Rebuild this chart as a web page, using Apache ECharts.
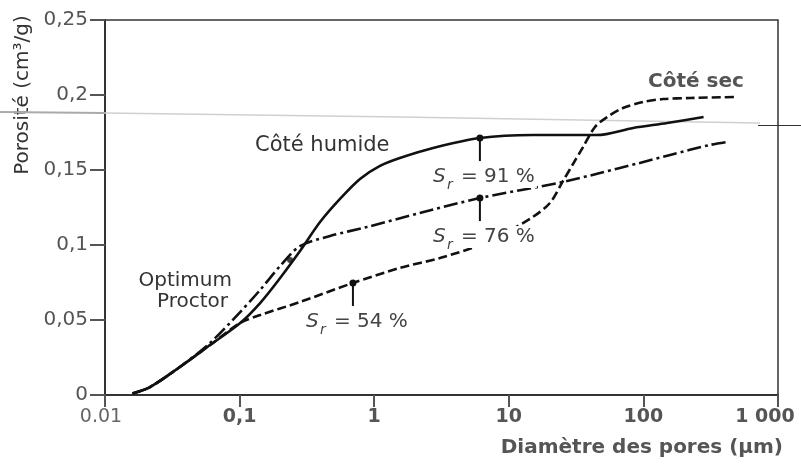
<!DOCTYPE html>
<html>
<head>
<meta charset="utf-8">
<title>Porosité en fonction du diamètre des pores</title>
<script src="https://cdn.jsdelivr.net/npm/echarts@6/dist/echarts.min.js"></script>
<style>
  html, body { margin: 0; padding: 0; background: #fff; }
  #chart { width: 801px; height: 468px; }
</style>
</head>
<body>
<div id="chart"></div>
<script>
// Axis ticks and their printed labels
const xTickValues = [0.01, 0.1, 1, 10, 100, 1000];
const xTickLabels = ['0.01', '0,1', '1', '10', '100', '1 000'];
const yTickValues = [0, 0.05, 0.1, 0.15, 0.2, 0.25];
const yTickLabels = ['0', '0,05', '0,1', '0,15', '0,2', '0,25'];

// Wet side of optimum (Sr = 91 %): pore diameter (µm) / porosity (cm3/g)
const wetDiam = [0.016, 0.0216, 0.036, 0.0603, 0.101, 0.142, 0.2, 0.281, 0.396, 0.557, 0.784, 1.104, 1.55, 2.74, 6.1, 15.1, 45.2, 84, 150, 280];
const wetPor  = [0.001, 0.0053, 0.0187, 0.0333, 0.048, 0.0613, 0.078, 0.096, 0.1153, 0.1307, 0.144, 0.1527, 0.158, 0.1647, 0.1713, 0.1733, 0.1733, 0.178, 0.1813, 0.1853];

// Optimum water content (Sr = 76 %)
const midDiam = [0.016, 0.0216, 0.036, 0.0603, 0.101, 0.142, 0.2, 0.281, 0.47, 0.883, 2.18, 6.1, 25.3, 47.6, 94, 158, 312, 418];
const midPor  = [0.001, 0.0053, 0.0187, 0.0347, 0.0553, 0.07, 0.086, 0.0993, 0.106, 0.112, 0.1213, 0.1313, 0.142, 0.148, 0.1547, 0.16, 0.1667, 0.1687];

// Dry side of optimum (Sr = 54 %)
const dryDiam = [0.016, 0.0216, 0.036, 0.0603, 0.101, 0.142, 0.281, 0.695, 1.55, 3.08, 5.8, 9.37, 15.1, 20.2, 25.3, 30, 35.6, 43.7, 53.7, 70.5, 99, 140, 222, 496];
const dryPor  = [0.001, 0.0053, 0.0187, 0.0333, 0.048, 0.0533, 0.062, 0.0747, 0.0847, 0.0913, 0.0993, 0.108, 0.1187, 0.128, 0.1427, 0.154, 0.1653, 0.1787, 0.1853, 0.1913, 0.1953, 0.1973, 0.198, 0.1987];

// Saturation markers on each curve
const srDiam = [6.1, 6.1, 0.695];
const srPor = [0.1713, 0.1313, 0.0747];
const srLabels = ['91 %', '76 %', '54 %'];

// Optimum Proctor point
const optDiam = [0.237];
const optPor = [0.09];

const FONT = 'DejaVu Sans';
const zip = (xs, ys) => xs.map((x, i) => [x, ys[i]]);

const chart = echarts.init(document.getElementById('chart'), null, { renderer: 'canvas' });

function xLabel(v) {
  const k = Math.round(Math.log10(v));
  const i = xTickValues.findIndex(t => Math.round(Math.log10(t)) === k);
  if (i < 0) return '';
  const style = i === 0 ? 'thin' : (i === xTickValues.length - 1 ? 'last' : 'bold');
  return '{' + style + '|' + xTickLabels[i] + '}';
}
function yLabel(v) {
  const i = yTickValues.findIndex(t => Math.abs(t - v) < 1e-9);
  return i < 0 ? '' : yTickLabels[i];
}

const option = {
  animation: false,
  textStyle: { fontFamily: FONT },
  grid: { left: 105, right: 23, top: 20, bottom: 73, show: true, borderColor: '#333', borderWidth: 1.5 },
  xAxis: {
    type: 'log', logBase: 10, min: 0.01, max: 1000,
    axisLine: { show: true, lineStyle: { color: '#333', width: 2 } },
    axisTick: { show: true, length: 12, lineStyle: { color: '#555', width: 2 } },
    minorTick: { show: false },
    splitLine: { show: false },
    axisLabel: {
      margin: 13, formatter: xLabel,
      rich: {
        thin: { fontFamily: FONT, fontSize: 19, color: '#666', padding: [0, 8, 0, 0] },
        bold: { fontFamily: FONT, fontSize: 19, fontWeight: 'bold', color: '#555' },
        last: { fontFamily: FONT, fontSize: 19, fontWeight: 'bold', color: '#555', padding: [0, 26, 0, 0] }
      }
    }
  },
  yAxis: {
    type: 'value', min: 0, max: 0.25, interval: 0.05,
    axisLine: { show: true, lineStyle: { color: '#333', width: 2 } },
    axisTick: { show: true, length: 15, lineStyle: { color: '#555', width: 2 } },
    splitLine: { show: false },
    axisLabel: { margin: 17, formatter: yLabel, fontFamily: FONT, fontSize: 20, color: '#555' }
  },
  graphic: [
    // thin rule across the figure
    { type: 'polyline', z: 1, silent: true, shape: { points: [[0, 112], [105, 113]] }, style: { stroke: '#aaa', lineWidth: 2, fill: null } },
    { type: 'polyline', z: 1, silent: true, shape: { points: [[105, 113], [400, 117], [760, 123]] }, style: { stroke: '#d0d0d0', lineWidth: 1.5, fill: null } },
    { type: 'line', z: 1, silent: true, shape: { x1: 758, y1: 125.5, x2: 801, y2: 125.5 }, style: { stroke: '#333', lineWidth: 1.2 } },
    // axis titles
    { type: 'text', x: 23, y: 95, rotation: Math.PI / 2, style: { text: 'Porosité (cm³/g)', font: '20px ' + FONT, fill: '#333', align: 'center', verticalAlign: 'middle' } },
    { type: 'text', x: 783, y: 448, style: { text: 'Diamètre des pores (µm)', font: 'bold 20px ' + FONT, fill: '#555', align: 'right', verticalAlign: 'middle' } },
    // curve annotations
    { type: 'text', x: 255, y: 146, style: { text: 'Côté humide', font: '21px ' + FONT, fill: '#333', align: 'left', verticalAlign: 'middle' } },
    { type: 'text', x: 648, y: 82, style: { text: 'Côté sec', font: 'bold 20px ' + FONT, fill: '#555', align: 'left', verticalAlign: 'middle' } },
    { type: 'text', x: 232, y: 281, style: { text: 'Optimum', font: '20px ' + FONT, fill: '#333', align: 'right', verticalAlign: 'middle' } },
    { type: 'text', x: 228, y: 302, style: { text: 'Proctor', font: '20px ' + FONT, fill: '#333', align: 'right', verticalAlign: 'middle' } }
  ],
  series: [
    {
      name: 'Sr 91 %', type: 'line', data: zip(wetDiam, wetPor), showSymbol: false, smooth: 0.3, silent: true, z: 3,
      lineStyle: { color: '#111', width: 2.6 }
    },
    {
      name: 'Sr 76 %', type: 'line', data: zip(midDiam, midPor), showSymbol: false, smooth: 0.3, silent: true, z: 3,
      lineStyle: { color: '#111', width: 2.6, type: [14, 4, 3, 4], cap: 'butt' }
    },
    {
      name: 'Sr 54 %', type: 'line', data: zip(dryDiam, dryPor), showSymbol: false, smooth: 0.3, silent: true, z: 3,
      lineStyle: { color: '#111', width: 2.6, type: [9, 4], cap: 'butt' }
    },
    {
      name: 'Optimum', type: 'scatter', data: zip(optDiam, optPor), symbol: 'circle', symbolSize: 6, silent: true, z: 4,
      itemStyle: { color: '#111' }
    },
    {
      name: 'Sr', type: 'custom', coordinateSystem: 'cartesian2d', silent: true, z: 6,
      data: srDiam.map((x, i) => [x, srPor[i], i]),
      renderItem: function (params, api) {
        const p = api.coord([api.value(0), api.value(1)]);
        const i = api.value(2);
        const ty = p[1] + 39;
        return {
          type: 'group',
          children: [
            { type: 'line', shape: { x1: p[0], y1: p[1], x2: p[0], y2: p[1] + 23 }, style: { stroke: '#111', lineWidth: 2 } },
            { type: 'circle', shape: { cx: p[0], cy: p[1], r: 3.5 }, style: { fill: '#111' } },
            { type: 'text', x: p[0] - 21, y: ty, style: { text: '= ' + srLabels[i], fontFamily: FONT, fontSize: 20, fill: '#444', align: 'left', verticalAlign: 'middle', backgroundColor: '#fff', padding: [1, 2] } },
            { type: 'text', x: p[0] - 47, y: ty, style: { text: 'S', fontFamily: FONT, fontSize: 20, fontStyle: 'italic', fill: '#444', align: 'left', verticalAlign: 'middle' } },
            { type: 'text', x: p[0] - 33, y: ty + 8, style: { text: 'r', fontFamily: FONT, fontSize: 14, fontStyle: 'italic', fill: '#444', align: 'left', verticalAlign: 'middle' } }
          ]
        };
      }
    }
  ]
};

chart.setOption(option);
</script>
</body>
</html>
